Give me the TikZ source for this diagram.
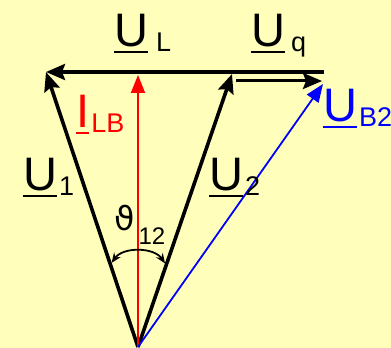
\documentclass[tikz,border=0pt]{standalone}
\usepackage{fontspec}
\setmainfont{Liberation Sans}
\newfontfamily\thetafont{DejaVu Sans}
\usetikzlibrary{arrows.meta}
\definecolor{paper}{RGB}{255,255,187}
\newcommand{\phasor}[3][2pt]{\setbox0\hbox{#2}\rlap{\rule[-6.5pt]{\wd0}{2pt}}\box0\kern#1\raisebox{-5pt}{\fontsize{27}{27}\selectfont #3}}

\begin{document}
\begin{tikzpicture}[x=1pt, y=1pt,
  vec/.style={line width=3.6pt, -{Stealth[length=19pt, width=16pt, inset=3pt]}},
  thinvec/.style={line width=1.8pt, -{Triangle[length=18pt, width=14pt]}},
  sym/.style={inner sep=0pt, anchor=base west, font=\fontsize{47}{47}\selectfont},
  angarc/.style={line width=1.8pt, {Stealth[length=10pt, width=8pt]}-{Stealth[length=10pt, width=8pt]}},
]
\fill[paper] (0,0) rectangle (391,348);
\useasboundingbox (0,0) rectangle (391,348);

% === Points ===
\coordinate (O) at (138,1);
\coordinate (A1) at (46,276);
\coordinate (A2) at (232,274);
\coordinate (E) at (324,276);
\coordinate (B) at (323,264);
\coordinate (I) at (138,273);
\coordinate (q1) at (236,267);
\coordinate (q2) at (322,267);

% === Phasors ===
\draw[vec] (E) -- (A1);
\draw[vec] (O) -- (A1);
\draw[vec] (O) -- (A2);
\draw[vec, line width=3pt] (q1) -- (q2);
\draw[thinvec, red] (O) -- (I);
\draw[thinvec, blue] (O) -- (B);

% === Angle ===
\path (O) -- (A1) coordinate[pos=0.3] (a1);
\path (O) -- (A2) coordinate[pos=0.3] (a2);
\draw[angarc, shorten <=2pt, shorten >=2pt] (a1) to[bend left=55] (a2);

% === Labels ===
\node[sym] (lUL) at (114,301) {\phasor[8pt]{U}{L}};
\node[sym] (lUq) at (251,301) {\phasor[6pt]{U}{q}};
\node[sym, text=red] (lILB) at (76,220) {\phasor{I}{LB}};
\node[sym, text=blue] (lUB) at (323,226) {\phasor{U}{B2}};
\node[sym] (lU1) at (23,157) {\phasor{U}{1}};
\node[sym] (lU2) at (209,157) {\phasor{U}{2}};
\node[sym, font=\fontsize{33}{33}\thetafont] (lth) at (114,117)
  {ϑ\kern4pt\raisebox{-14pt}{\fontsize{24}{24}\selectfont\rmfamily 12}};

\end{tikzpicture}
\end{document}
